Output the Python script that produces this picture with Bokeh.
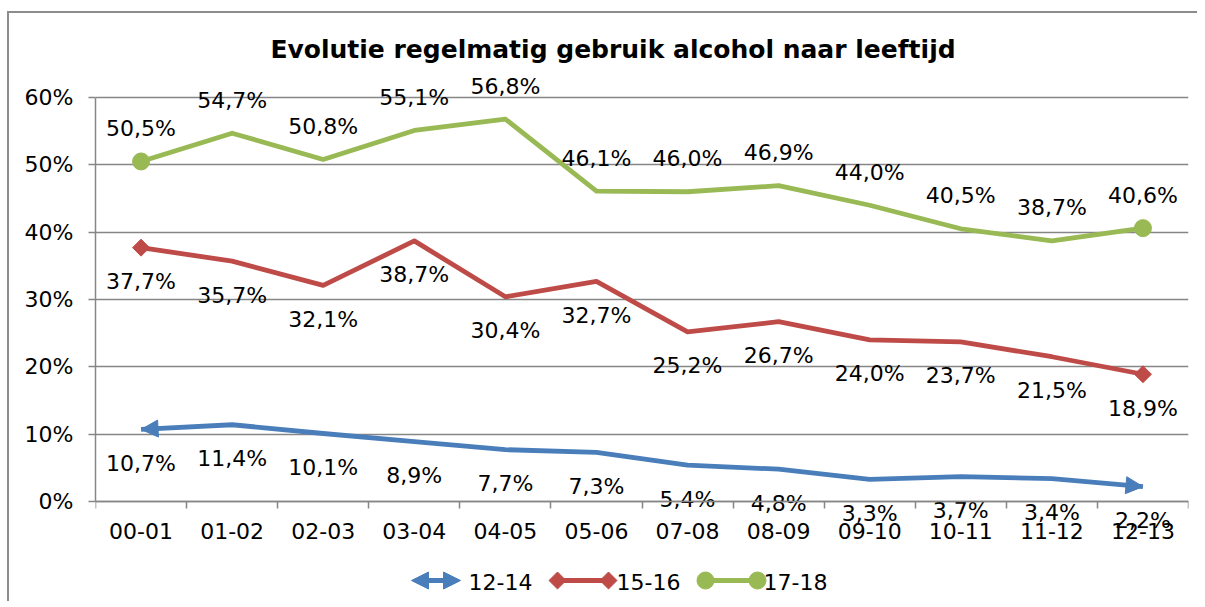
from bokeh.plotting import figure
from bokeh.models import FixedTicker, Range1d, Arrow, NormalHead
from bokeh.embed import file_html
from bokeh.resources import INLINE
from bokeh.core.properties import value
import math

# ---------------- data ----------------
categories = ["00-01", "01-02", "02-03", "03-04", "04-05", "05-06",
              "07-08", "08-09", "09-10", "10-11", "11-12", "12-13"]
s_12_14 = [10.7, 11.4, 10.1, 8.9, 7.7, 7.3, 5.4, 4.8, 3.3, 3.7, 3.4, 2.2]
s_15_16 = [37.7, 35.7, 32.1, 38.7, 30.4, 32.7, 25.2, 26.7, 24.0, 23.7, 21.5, 18.9]
s_17_18 = [50.5, 54.7, 50.8, 55.1, 56.8, 46.1, 46.0, 46.9, 44.0, 40.5, 38.7, 40.6]
series_names = ["12-14", "15-16", "17-18"]
y_ticks = [0, 10, 20, 30, 40, 50, 60]
title_text = "Evolutie regelmatig gebruik alcohol naar leeftijd"

# ---------------- styles / layout ----------------
BLUE, RED, GREEN = "#4A7EBB", "#BE4B48", "#98B954"
GRID = "#868686"
FONT = "DejaVu Sans"
FS = "22px"
LW = 4.8

FIG_LEFT, FIG_TOP = 9, 13          # page position of the canvas
FIG_W, FIG_H = 1190, 590
PLOT_L, PLOT_R, PLOT_T, PLOT_B = 95, 1188, 97, 501   # page px of the value area
n = len(categories)
PX_PER_CAT = (PLOT_R - PLOT_L) / n
PX_PER_PCT = (PLOT_B - PLOT_T) / (y_ticks[-1] - y_ticks[0])


def dx(px):
    return (px - PLOT_L) / PX_PER_CAT


def dy(py):
    return (PLOT_B - py) / PX_PER_PCT


xs = [i + 0.5 for i in range(n)]

p = figure(width=FIG_W, height=FIG_H, x_range=Range1d(0, n),
           y_range=Range1d(dy(FIG_TOP + FIG_H), dy(FIG_TOP)),
           x_axis_location="above",
           output_backend="svg", toolbar_location=None,
           min_border_left=PLOT_L - FIG_LEFT, min_border_right=FIG_LEFT + FIG_W - PLOT_R,
           min_border_top=0, min_border_bottom=0, outline_line_color=None,
           background_fill_color="white", border_fill_color="white")
p.title.visible = False

# y axis
ya = p.yaxis[0]
ya.ticker = FixedTicker(ticks=y_ticks, minor_ticks=[])
ya.bounds = (y_ticks[0], y_ticks[-1])
ya.major_label_overrides = {t: f"{t}%" for t in y_ticks}
ya.axis_line_color = GRID
ya.axis_line_width = 1.5
ya.major_tick_line_color = GRID
ya.major_tick_line_width = 1.5
ya.major_tick_out = 7
ya.major_tick_in = 0
ya.minor_tick_line_color = None
ya.major_label_standoff = 15
ya.major_label_text_font = FONT
ya.major_label_text_font_size = FS
ya.major_label_text_color = "black"

# x axis (drawn at the 0 line, labels below it)
xa = p.xaxis[0]
xa.fixed_location = 0
xa.bounds = (0, n)
xa.ticker = FixedTicker(ticks=xs, minor_ticks=list(range(n + 1)))
xa.major_label_overrides = {x: c for x, c in zip(xs, categories)}
xa.axis_line_color = GRID
xa.axis_line_width = 1.5
xa.major_tick_line_color = None
xa.major_tick_out = 0
xa.major_tick_in = 0
xa.minor_tick_line_color = GRID
xa.minor_tick_line_width = 1.5
xa.minor_tick_out = 0
xa.minor_tick_in = 7
xa.major_label_standoff = -37
xa.major_label_text_font = FONT
xa.major_label_text_font_size = FS
xa.major_label_text_color = "black"

p.xgrid.visible = False
p.ygrid.grid_line_color = GRID
p.ygrid.grid_line_width = 1.5


def fmt(v):
    return f"{v:.1f}%".replace(".", ",")


series = [s_12_14, s_15_16, s_17_18]
colors = [BLUE, RED, GREEN]
label_offsets = [34, 34, -33]

for s, c in zip(series, colors):
    p.line(xs, s, line_color=c, line_width=LW, line_join="round")

# end markers
p.scatter([xs[0], xs[-1]], [s_15_16[0], s_15_16[-1]], marker="square", size=12,
          angle=math.pi / 4, fill_color=RED, line_color=RED)
p.scatter([xs[0], xs[-1]], [s_17_18[0], s_17_18[-1]], marker="circle", size=17,
          fill_color=GREEN, line_color=GREEN)
p.add_layout(Arrow(x_start=xs[1], y_start=s_12_14[1], x_end=xs[0], y_end=s_12_14[0],
                   line_alpha=0,
                   end=NormalHead(size=17, fill_color=BLUE, line_color=BLUE)))
p.add_layout(Arrow(x_start=xs[-2], y_start=s_12_14[-2], x_end=xs[-1], y_end=s_12_14[-1],
                   line_alpha=0,
                   end=NormalHead(size=17, fill_color=BLUE, line_color=BLUE)))

# data labels
for s, off in zip(series, label_offsets):
    p.text(x=xs, y=s, text=[fmt(v) for v in s], y_offset=off,
           text_align="center", text_baseline="middle",
           text_font=value(FONT), text_font_size=FS, text_color="black")

# title
p.text(x=[dx(612.5)], y=[dy(49)], text=[title_text], text_align="center",
       text_baseline="middle", text_font=value(FONT), text_font_size="25px",
       text_font_style="bold", text_color="black")

# legend
ly = dy(580)
p.add_layout(Arrow(x_start=dx(411), y_start=ly, x_end=dx(460), y_end=ly,
                   line_color=BLUE, line_width=LW,
                   start=NormalHead(size=17, fill_color=BLUE, line_color=BLUE),
                   end=NormalHead(size=17, fill_color=BLUE, line_color=BLUE)))
p.segment(x0=[dx(557)], y0=[ly], x1=[dx(608)], y1=[ly], line_color=RED, line_width=LW)
p.scatter([dx(557), dx(608)], [ly, ly], marker="square", size=12, angle=math.pi / 4,
          fill_color=RED, line_color=RED)
p.segment(x0=[dx(705)], y0=[ly], x1=[dx(757)], y1=[ly], line_color=GREEN, line_width=LW)
p.scatter([dx(705), dx(757)], [ly, ly], marker="circle", size=17,
          fill_color=GREEN, line_color=GREEN)
p.text(x=[dx(468), dx(616), dx(763)], y=[dy(581)] * 3, text=series_names,
       text_align="left", text_baseline="middle", text_font=value(FONT),
       text_font_size=FS, text_color="black")

p.styles = {"border-top": "2px solid #8c8c8c", "border-left": "2px solid #8c8c8c",
            "margin-top": "11px", "margin-left": "7px"}

open("out.html", "w").write(file_html(p, INLINE))
